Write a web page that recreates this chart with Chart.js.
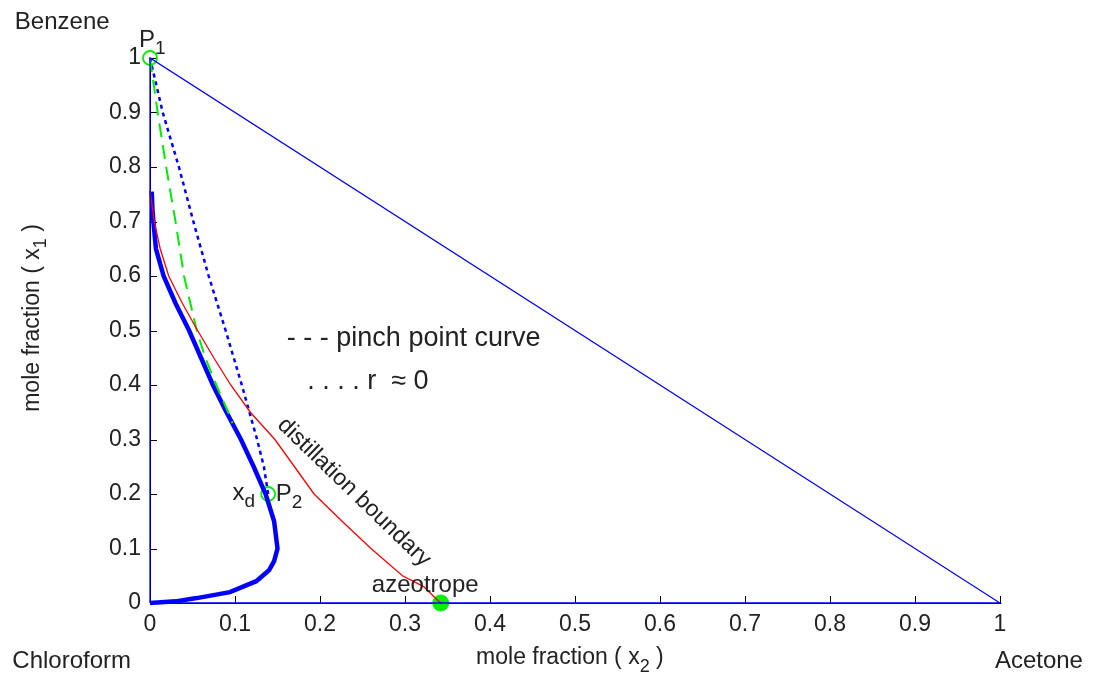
<!DOCTYPE html>
<html>
<head>
<meta charset="utf-8">
<script src="https://cdn.jsdelivr.net/npm/chart.js@4"></script>
<style>
  html, body { margin: 0; padding: 0; background: #fff; }
  #wrap { width: 1096px; height: 675px; position: relative; }
</style>
</head>
<body>
<div id="wrap"><canvas id="tri"></canvas></div>
<script>
// ## data (mole fractions) ############################################################
const triangleX = [0, 1, 0, 0];
const triangleY = [0, 0, 1, 0];

// thick blue profile, top -> bottom
const profileX = [0.002, 0.003, 0.004, 0.007, 0.016, 0.030, 0.046, 0.060, 0.074, 0.090, 0.107, 0.122, 0.136, 0.146, 0.150, 0.146, 0.140, 0.125, 0.094, 0.055, 0.030, 0.0];
const profileY = [0.755, 0.72, 0.70, 0.65, 0.60, 0.55, 0.50, 0.45, 0.40, 0.35, 0.30, 0.25, 0.20, 0.15, 0.10, 0.077, 0.06, 0.04, 0.02, 0.009, 0.003, 0.0];

// red distillation boundary
const boundaryX = [0.0, 0.005, 0.012, 0.022, 0.038, 0.056, 0.075, 0.095, 0.118, 0.147, 0.170, 0.193, 0.226, 0.260, 0.297, 0.322, 0.335, 0.342];
const boundaryY = [0.757, 0.70, 0.65, 0.60, 0.55, 0.50, 0.45, 0.40, 0.35, 0.30, 0.25, 0.20, 0.15, 0.10, 0.05, 0.03, 0.01, 0.0];

// green dashed pinch point curve
const pinchX = [0.0, 0.009, 0.019, 0.030, 0.040, 0.055, 0.065, 0.078, 0.092, 0.097];
const pinchY = [1.0, 0.9, 0.8, 0.7, 0.6, 0.5, 0.45, 0.4, 0.35, 0.33];

// blue dotted r ~ 0 curve
const rZeroX = [0.0, 0.015, 0.034, 0.051, 0.069, 0.089, 0.108, 0.126, 0.134, 0.139];
const rZeroY = [1.0, 0.9, 0.8, 0.7, 0.6, 0.5, 0.4, 0.3, 0.25, 0.2];

// marked points P1, P2 and azeotrope
const openPtsX = [0.0, 0.139];
const openPtsY = [1.0, 0.2];
const azeoX = [0.342];
const azeoY = [0.0];

const tickVals = [0, 0.1, 0.2, 0.3, 0.4, 0.5, 0.6, 0.7, 0.8, 0.9, 1];

const FONT = "'Liberation Sans', Arial, sans-serif";
const INK = '#222';

function pts(xs, ys) { return xs.map((x, i) => ({ x: x, y: ys[i] })); }
function fmt(v) { return String(Number(v.toFixed(1))); }

// ## text + inward tick plugin ########################################################
// draws text with an optional subscript, at data coords
function label(ctx, sx, sy, px, py, main, sub, size, opts) {
  opts = opts || {};
  const x = sx.getPixelForValue(px), y = sy.getPixelForValue(py);
  ctx.save();
  ctx.translate(x, y);
  if (opts.rot) ctx.rotate(opts.rot);
  ctx.fillStyle = INK;
  ctx.textBaseline = 'middle';
  ctx.font = size + 'px ' + FONT;
  let full = ctx.measureText(main).width;
  let sw = 0, tail = opts.tail || '';
  const subSize = Math.round(size * 0.78);
  if (sub) { ctx.font = subSize + 'px ' + FONT; sw = ctx.measureText(sub).width; }
  ctx.font = size + 'px ' + FONT;
  const tw = tail ? ctx.measureText(tail).width : 0;
  let x0 = 0;
  if (opts.align === 'center') x0 = -(full + sw + tw) / 2;
  ctx.textAlign = 'left';
  ctx.fillText(main, x0, 0);
  if (sub) {
    ctx.font = subSize + 'px ' + FONT;
    ctx.fillText(sub, x0 + full, size * 0.38);
  }
  if (tail) {
    ctx.font = size + 'px ' + FONT;
    ctx.fillText(tail, x0 + full + sw, 0);
  }
  ctx.restore();
}

const decor = {
  id: 'decor',
  beforeDatasetsDraw(chart) {
    const ctx = chart.ctx, sx = chart.scales.x, sy = chart.scales.y;
    const y0 = sy.getPixelForValue(0), x0 = sx.getPixelForValue(0);
    ctx.save();
    ctx.strokeStyle = '#000';
    ctx.lineWidth = 1;
    ctx.beginPath();
    tickVals.forEach(v => {
      const px = Math.round(sx.getPixelForValue(v)) + 0.5;
      ctx.moveTo(px, y0); ctx.lineTo(px, y0 - 7);
      const py = Math.round(sy.getPixelForValue(v)) + 0.5;
      ctx.moveTo(x0, py); ctx.lineTo(x0 + 7, py);
    });
    ctx.stroke();
    ctx.restore();
  },
  afterDraw(chart) {
    const ctx = chart.ctx, sx = chart.scales.x, sy = chart.scales.y;
    label(ctx, sx, sy, -0.159, 1.066, 'Benzene', '', 24);
    label(ctx, sx, sy, -0.162, -0.108, 'Chloroform', '', 24);
    label(ctx, sx, sy, 0.994, -0.108, 'Acetone', '', 24);
    label(ctx, sx, sy, 0.494, -0.101, 'mole fraction ( x', '2', 23, { align: 'center', tail: ' )' });
    label(ctx, sx, sy, -0.138, 0.523, 'mole fraction ( x', '1', 23, { align: 'center', tail: ' )', rot: -Math.PI / 2 });
    label(ctx, sx, sy, 0.161, 0.486, '- - - pinch point curve', '', 27);
    label(ctx, sx, sy, 0.185, 0.406, '. . . . r  \u2248 0', '', 27);
    label(ctx, sx, sy, 0.261, 0.033, 'azeotrope', '', 24);
    label(ctx, sx, sy, 0.240, 0.203, 'distillation boundary', '', 23, { align: 'center', rot: 44 * Math.PI / 180 });
    label(ctx, sx, sy, -0.013, 1.033, 'P', '1', 24);
    label(ctx, sx, sy, 0.097, 0.202, 'x', 'd', 24);
    label(ctx, sx, sy, 0.148, 0.200, 'P', '2', 24);
  }
};

// ## chart ############################################################################
const line = (xs, ys, color, width, dash) => ({
  data: pts(xs, ys),
  showLine: true,
  borderColor: color,
  borderWidth: width,
  borderDash: dash || [],
  pointRadius: 0,
  fill: false,
  tension: 0,
  clip: false
});

new Chart(document.getElementById('tri').getContext('2d'), {
  type: 'scatter',
  data: {
    datasets: [
      line(triangleX, triangleY, '#0000ff', 1.3),
      line(boundaryX, boundaryY, '#ff0000', 1.3),
      line(pinchX, pinchY, '#00ee00', 2, [14, 8]),
      line(rZeroX, rZeroY, '#0000ff', 2.5, [4, 4]),
      line(profileX, profileY, '#0000ff', 4.5),
      {
        data: pts(openPtsX, openPtsY),
        pointRadius: 7,
        pointBorderColor: '#00ee00',
        pointBackgroundColor: 'rgba(0,0,0,0)',
        pointBorderWidth: 1.8,
        clip: false
      },
      {
        data: pts(azeoX, azeoY),
        pointRadius: 8,
        pointBorderColor: '#00ee00',
        pointBackgroundColor: '#00ee00',
        pointBorderWidth: 1,
        clip: false
      }
    ]
  },
  options: {
    responsive: true,
    maintainAspectRatio: false,
    animation: false,
    layout: { padding: { top: 58, right: 96, left: 0, bottom: 0 } },
    plugins: { legend: { display: false }, tooltip: { enabled: false } },
    scales: {
      x: {
        type: 'linear', min: 0, max: 1,
        grid: { drawOnChartArea: false, drawTicks: false },
        border: { color: '#000', width: 1 },
        ticks: {
          stepSize: 0.1, autoSkip: false, maxRotation: 0, padding: 8,
          color: INK, font: { family: FONT, size: 23 }, callback: fmt
        },
        afterFit(s) { s.height = 72; }
      },
      y: {
        type: 'linear', min: 0, max: 1,
        grid: { drawOnChartArea: false, drawTicks: false },
        border: { color: '#000', width: 1 },
        ticks: {
          stepSize: 0.1, autoSkip: false, padding: 9,
          color: INK, font: { family: FONT, size: 23 }, callback: fmt
        },
        afterFit(s) { s.width = 150; }
      }
    }
  },
  plugins: [decor]
});
</script>
</body>
</html>
